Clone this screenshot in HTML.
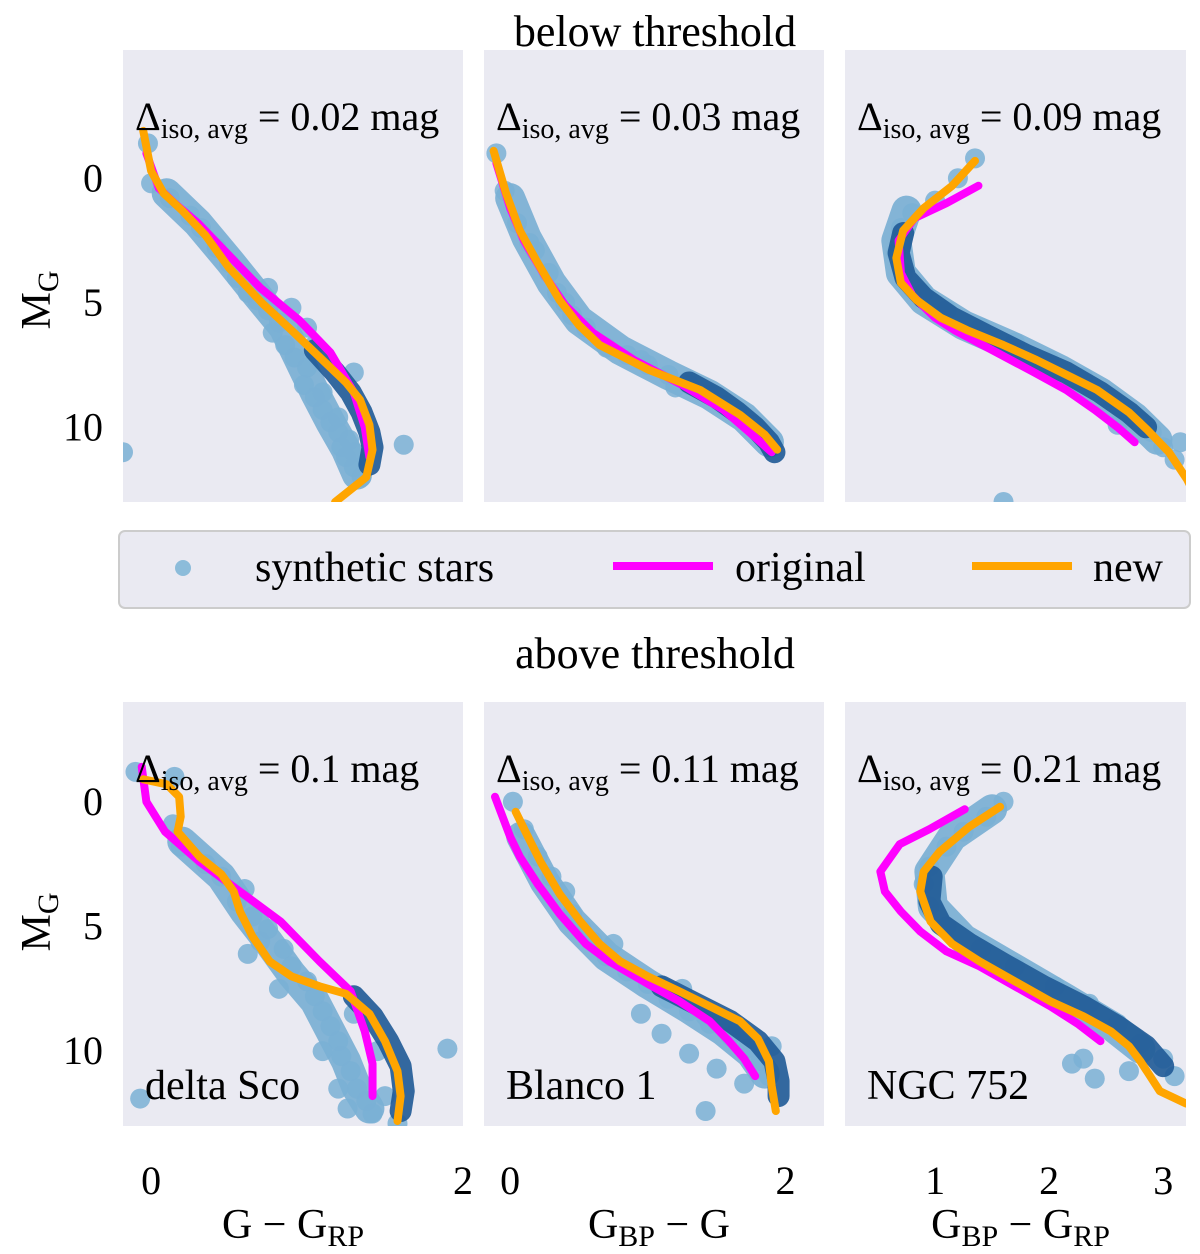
<!DOCTYPE html>
<html><head><meta charset="utf-8"><style>
body{margin:0;background:#fff;}
svg, svg text{font-family:"Liberation Serif","DejaVu Serif",serif;}
svg{display:block;}
</style></head><body>
<svg id="fig" width="1200" height="1254" font-family="Liberation Serif, DejaVu Serif, serif">
<text x="655" y="46" font-size="44" text-anchor="middle">below threshold</text>
<text x="655" y="668" font-size="44" text-anchor="middle">above threshold</text>
<g>
<rect x="119" y="531" width="1071" height="77" rx="6" fill="#eaeaf2" stroke="#cccccc" stroke-width="2"/>
<circle cx="183" cy="568" r="8" fill="#8cbcda"/>
<text x="255" y="581" font-size="42">synthetic stars</text>
<line x1="613" y1="566" x2="713" y2="566" stroke="#ff00ff" stroke-width="8"/>
<text x="735" y="581" font-size="42">original</text>
<line x1="972" y1="566" x2="1072" y2="566" stroke="#ffa500" stroke-width="8"/>
<text x="1093" y="581" font-size="42">new</text>
</g>
<text transform="translate(50,300) rotate(-90)" font-size="42" text-anchor="middle">M<tspan font-size="30" dy="8">G</tspan></text>
<text transform="translate(50,922) rotate(-90)" font-size="42" text-anchor="middle">M<tspan font-size="30" dy="8">G</tspan></text>
</svg>
<script>
// y tick values
const yTicks=[0,5,10];
// panel metadata
const deltas=["0.02","0.03","0.09","0.1","0.11","0.21"];
const clusterNames=["","","","delta Sco","Blanco 1","NGC 752"];
const xTicksCol=[[0,2],[0,2],[1,2,3]];
const xLabels=[["G − G","RP"],["G","BP"," − G"],["G","BP"," − G","RP"]];
// series: new isochrone
const newIso=[
[[-0.05,-1.9],[0.0,-0.3],[0.08,0.6],[0.2,1.3],[0.35,2.3],[0.5,3.6],[0.71,5.0],[0.9,6.1],[1.1,7.3],[1.25,8.2],[1.34,8.9],[1.4,9.9],[1.42,10.9],[1.38,12.0],[1.18,13.0]],
[[-0.12,-1.1],[-0.03,0.6],[0.07,2.1],[0.2,3.4],[0.36,4.9],[0.5,5.9],[0.65,6.7],[1.01,7.7],[1.38,8.5],[1.67,9.5],[1.85,10.3],[1.94,10.9]],
[[1.35,-0.7],[1.15,0.3],[0.9,1.2],[0.72,2.1],[0.66,3.2],[0.7,4.2],[0.84,4.9],[1.05,5.6],[1.28,6.1],[1.6,6.7],[1.89,7.3],[2.2,8.0],[2.42,8.5],[2.7,9.4],[2.86,10.1],[3.05,11.0],[3.21,12.1],[3.3,12.9]],
[[-0.05,-0.9],[0.1,-0.7],[0.18,-0.2],[0.19,0.6],[0.17,1.2],[0.31,2.2],[0.45,2.9],[0.53,3.6],[0.57,4.4],[0.65,5.4],[0.76,6.4],[0.9,7.0],[1.08,7.4],[1.25,7.7],[1.4,8.5],[1.5,9.6],[1.58,10.8],[1.6,11.8],[1.58,12.8]],
[[0.04,0.4],[0.12,1.3],[0.22,2.4],[0.36,3.7],[0.51,4.8],[0.65,5.7],[0.8,6.4],[1.0,7.0],[1.23,7.6],[1.45,8.2],[1.67,8.8],[1.8,9.5],[1.88,10.4],[1.9,11.4],[1.93,12.4]],
[[1.57,0.2],[1.3,1.0],[1.04,2.0],[0.9,2.8],[0.87,3.6],[0.96,4.8],[1.15,5.7],[1.39,6.4],[1.7,7.2],[2.01,8.0],[2.3,8.6],[2.54,9.2],[2.7,9.8],[2.8,10.4],[2.97,11.6],[3.2,12.1]]
];
// series: original isochrone
const origIso=[
[[-0.03,-1.0],[0.05,0.4],[0.15,1.0],[0.3,1.8],[0.5,3.1],[0.7,4.4],[0.95,5.7],[1.15,7.0],[1.3,8.6],[1.37,10.0],[1.4,11.2]],
[[-0.1,-0.6],[0.0,1.2],[0.1,2.5],[0.25,3.9],[0.4,5.1],[0.6,6.2],[0.9,7.3],[1.25,8.3],[1.55,9.3],[1.78,10.4],[1.9,11.0]],
[[1.38,0.3],[1.1,1.0],[0.82,1.6],[0.68,2.5],[0.7,3.8],[0.8,4.7],[1.0,5.6],[1.17,6.1],[1.5,6.9],[1.87,7.8],[2.15,8.5],[2.4,9.3],[2.6,10.0],[2.75,10.6]],
[[-0.06,-1.4],[-0.03,0.0],[0.09,1.2],[0.31,2.4],[0.57,3.6],[0.83,4.8],[1.08,6.4],[1.28,7.6],[1.37,9.2],[1.42,10.5],[1.42,11.8]],
[[-0.11,-0.2],[0.0,1.4],[0.07,2.2],[0.2,3.3],[0.36,4.5],[0.55,5.7],[0.72,6.4],[1.0,7.3],[1.23,8.0],[1.45,8.8],[1.59,9.6],[1.7,10.3],[1.78,11.0]],
[[1.26,0.3],[0.95,1.1],[0.69,1.7],[0.52,2.8],[0.56,3.6],[0.7,4.4],[0.87,5.2],[1.1,6.0],[1.39,6.6],[1.7,7.4],[2.01,8.2],[2.25,8.9],[2.45,9.6]]
];
// series: synthetic stars (scattered individual points)
const starsLight=[
[[-0.02,-1.4],[0.0,0.2],[0.12,0.8],[0.25,1.5],[0.32,2.0],[0.42,2.8],[0.5,3.4],[0.55,4.0],[0.62,4.6],[0.68,4.9],[0.75,5.3],[0.82,5.8],[0.78,6.2],[0.86,6.7],[0.92,7.2],[1.0,7.6],[0.98,8.3],[1.05,8.8],[1.1,9.3],[1.15,9.8],[1.2,10.2],[1.22,10.8],[1.25,11.2],[1.3,11.6],[1.35,12.0],[1.3,11.0],[1.2,9.6],[1.1,8.6],[1.27,10.5],[0.9,5.2],[0.75,4.4],[1.05,6.7],[-0.18,11.0],[1.62,10.7],[1.0,6.0],[1.3,7.8]],
[[-0.1,-1.0],[-0.04,0.5],[0.05,1.8],[0.14,2.6],[0.18,2.9],[0.28,3.8],[0.34,4.6],[0.45,5.5],[0.55,6.0],[0.7,6.8],[0.85,7.1],[1.0,7.5],[1.15,7.9],[1.3,8.3],[1.45,8.7],[1.55,9.1],[1.65,9.4],[1.75,9.9],[1.83,10.4],[1.9,10.8],[1.2,8.4],[0.95,7.3],[0.4,5.0]],
[[1.35,-0.8],[1.2,0.0],[1.0,0.9],[0.8,1.4],[0.7,2.0],[0.66,3.0],[0.72,3.8],[0.9,4.6],[1.1,5.3],[1.4,6.0],[1.7,6.6],[2.0,7.3],[2.3,8.0],[2.55,8.8],[2.7,9.6],[2.9,10.2],[3.0,10.8],[3.1,11.3],[2.6,9.9],[1.6,13.0],[3.15,10.6]],
[[-0.1,-1.2],[0.15,-1.0],[0.14,0.9],[0.19,1.8],[0.35,2.5],[0.45,3.0],[0.6,3.5],[0.55,4.0],[0.65,4.6],[0.75,5.1],[0.7,5.6],[0.85,5.9],[0.9,6.6],[1.0,7.2],[1.05,7.8],[1.1,8.4],[1.15,9.0],[1.2,9.6],[1.22,10.2],[1.28,10.8],[1.32,11.5],[1.38,12.0],[1.42,12.5],[1.5,11.8],[1.2,11.5],[1.1,10.0],[0.82,7.5],[1.3,8.5],[1.45,10.0],[1.26,12.3],[1.9,9.9],[-0.07,11.9],[1.58,12.9],[0.62,6.1]],
[[0.02,0.0],[0.1,1.1],[0.2,2.2],[0.3,3.0],[0.4,3.6],[0.45,4.5],[0.52,5.1],[0.6,5.6],[0.7,6.2],[0.85,6.8],[1.0,7.3],[1.15,7.9],[1.3,8.4],[1.45,8.9],[1.6,9.4],[1.72,9.9],[1.82,10.4],[1.88,11.0],[1.7,11.3],[1.5,10.7],[1.3,10.1],[1.1,9.3],[0.95,8.5],[1.25,7.5],[1.42,8.6],[1.9,9.8],[1.42,12.4],[0.75,5.7]],
[[1.6,0.0],[1.45,0.6],[1.25,1.2],[1.1,1.8],[0.95,2.6],[0.9,3.3],[0.95,4.2],[1.1,5.0],[1.4,5.9],[1.7,6.6],[2.05,7.4],[2.35,8.1],[2.6,8.9],[2.8,9.7],[3.0,10.3],[3.1,11.0],[2.3,10.3],[2.4,11.1],[2.2,10.5],[0.1,1.8],[2.7,10.8]]
];
// series: synthetic stars (dense main cloud ridge)
const starsCloud=[
[[0.1,0.6],[0.3,1.8],[0.5,3.3],[0.68,4.7],[0.85,6.0],[0.95,7.3],[1.05,8.6],[1.15,9.8],[1.25,10.9],[1.32,11.9]],
[[0.0,0.8],[0.12,2.4],[0.3,4.2],[0.5,5.7],[0.8,6.9],[1.15,7.9],[1.45,8.7],[1.7,9.6],[1.88,10.6]],
[[0.75,1.3],[0.66,2.5],[0.7,3.8],[0.9,4.9],[1.25,5.9],[1.7,6.8],[2.1,7.7],[2.45,8.6],[2.75,9.6],[2.95,10.5]],
[[0.2,1.6],[0.45,3.0],[0.6,4.4],[0.75,5.6],[0.9,6.9],[1.05,8.0],[1.15,9.2],[1.25,10.4],[1.32,11.5],[1.4,12.3]],
[[0.08,1.4],[0.25,3.2],[0.45,4.8],[0.7,6.2],[1.0,7.3],[1.3,8.3],[1.55,9.2],[1.75,10.1],[1.85,10.9]],
[[1.5,0.3],[1.15,1.4],[0.95,2.8],[0.98,4.2],[1.25,5.5],[1.7,6.7],[2.15,7.9],[2.55,9.0],[2.8,9.9]]
];
// series: synthetic stars (dense dark ridge)
const starsDark=[
[[1.05,6.9],[1.18,7.8],[1.28,8.6],[1.35,9.4],[1.4,10.2],[1.42,10.8],[1.4,11.5]],
[[1.3,8.2],[1.5,8.8],[1.65,9.4],[1.78,10.0],[1.88,10.6],[1.92,11.0]],
[[0.72,2.2],[0.68,3.0],[0.74,4.0],[0.9,4.8],[1.15,5.6],[1.45,6.3],[1.8,7.1],[2.15,7.8],[2.45,8.6],[2.7,9.4],[2.85,10.0]],
[[1.3,7.8],[1.42,8.6],[1.52,9.6],[1.6,10.6],[1.62,11.6],[1.6,12.4]],
[[1.1,7.4],[1.35,8.1],[1.6,8.8],[1.8,9.6],[1.92,10.4],[1.95,11.2],[1.95,11.8]],
[[0.97,3.0],[0.95,4.0],[1.05,4.9],[1.3,5.7],[1.6,6.5],[1.95,7.4],[2.3,8.2],[2.6,9.0],[2.85,9.8],[3.0,10.6]]
];
const NS="http://www.w3.org/2000/svg";
const svg=document.getElementById('fig');
const cols=[{x0:123,x1:463,lo:-0.18,hi:2.0},{x0:484,x1:824,lo:-0.19,hi:2.28},{x0:845,x1:1186,lo:0.21,hi:3.2}];
const rows=[{y0:50,y1:502,lo:-5.15,hi:13.0},{y0:702,y1:1126,lo:-4.0,hi:13.0}];
function mk(tag,attrs,parent){const e=document.createElementNS(NS,tag);for(const k in attrs)e.setAttribute(k,attrs[k]);(parent||svg).appendChild(e);return e;}
for(let p=0;p<6;p++){
  const c=cols[p%3],r=rows[Math.floor(p/3)];
  const sx=v=>c.x0+(v-c.lo)/(c.hi-c.lo)*(c.x1-c.x0);
  const sy=v=>r.y0+(v-r.lo)/(r.hi-r.lo)*(r.y1-r.y0);
  const pts=a=>a.map(q=>sx(q[0])+','+sy(q[1])).join(' ');
  const g=mk('g',{});
  
  
  const clipId='clip'+p;
  const cp=mk('clipPath',{id:clipId},g);mk('rect',{x:c.x0,y:r.y0,width:c.x1-c.x0,height:r.y1-r.y0},cp);
  const bg=mk('rect',{x:c.x0,y:r.y0,width:c.x1-c.x0,height:r.y1-r.y0,fill:'#eaeaf2'},g);
  
  
  const inner=mk('g',{'clip-path':'url(#'+clipId+')'},g);
  const cl=mk('polyline',{points:pts(starsCloud[p]),fill:'none',stroke:'#78aed3','stroke-width':30,'stroke-linecap':'round','stroke-linejoin':'round','stroke-opacity':0.9},inner);
  
  
  starsLight[p].forEach(pt=>{const s=mk('circle',{cx:sx(pt[0]),cy:sy(pt[1]),r:10,fill:'#7ab0d5','fill-opacity':0.85},inner);
    
    });
  const dk=mk('polyline',{points:pts(starsDark[p]),fill:'none',stroke:'#1f5a96','stroke-width':22,'stroke-linecap':'round','stroke-linejoin':'round','stroke-opacity':0.9},inner);
  
  
  const o=mk('polyline',{points:pts(origIso[p]),fill:'none',stroke:'#ff00ff','stroke-width':8,'stroke-linejoin':'round','stroke-linecap':'round'},inner);
  
  
  const n=mk('polyline',{points:pts(newIso[p]),fill:'none',stroke:'#ffa500','stroke-width':8,'stroke-linejoin':'round','stroke-linecap':'round'},inner);
  
  
  const t=mk('text',{x:c.x0+12,y:r.y0+80,'font-size':40},g);
  t.innerHTML='Δ<tspan font-size="28" dy="8">iso, avg</tspan><tspan dy="-8"> = '+deltas[p]+' mag</tspan>';
  
  
  if(clusterNames[p]){const cn=mk('text',{x:c.x0+22,y:r.y1-27,'font-size':42},g);cn.textContent=clusterNames[p];
    
    }
  if(p%3===0){yTicks.forEach(v=>{const tt=mk('text',{x:c.x0-20,y:sy(v)+13,'font-size':40,'text-anchor':'end'});tt.textContent=v;
    
    });}
  if(p>=3){xTicksCol[p%3].forEach(v=>{const tt=mk('text',{x:sx(v),y:1194,'font-size':40,'text-anchor':'middle'});tt.textContent=v;
    
    });
    const L=xLabels[p%3];const xl=mk('text',{x:(c.x0+c.x1)/2+(p%3===0?0:5),y:1238,'font-size':42,'text-anchor':'middle'});
    let h=L[0]+'<tspan font-size="30" dy="8">'+L[1]+'</tspan>';
    if(L.length>2)h+='<tspan dy="-8">'+L[2]+'</tspan>';
    if(L.length>3)h+='<tspan font-size="30" dy="8">'+L[3]+'</tspan>';
    xl.innerHTML=h;
    
    }
}
</script>
</body></html>
